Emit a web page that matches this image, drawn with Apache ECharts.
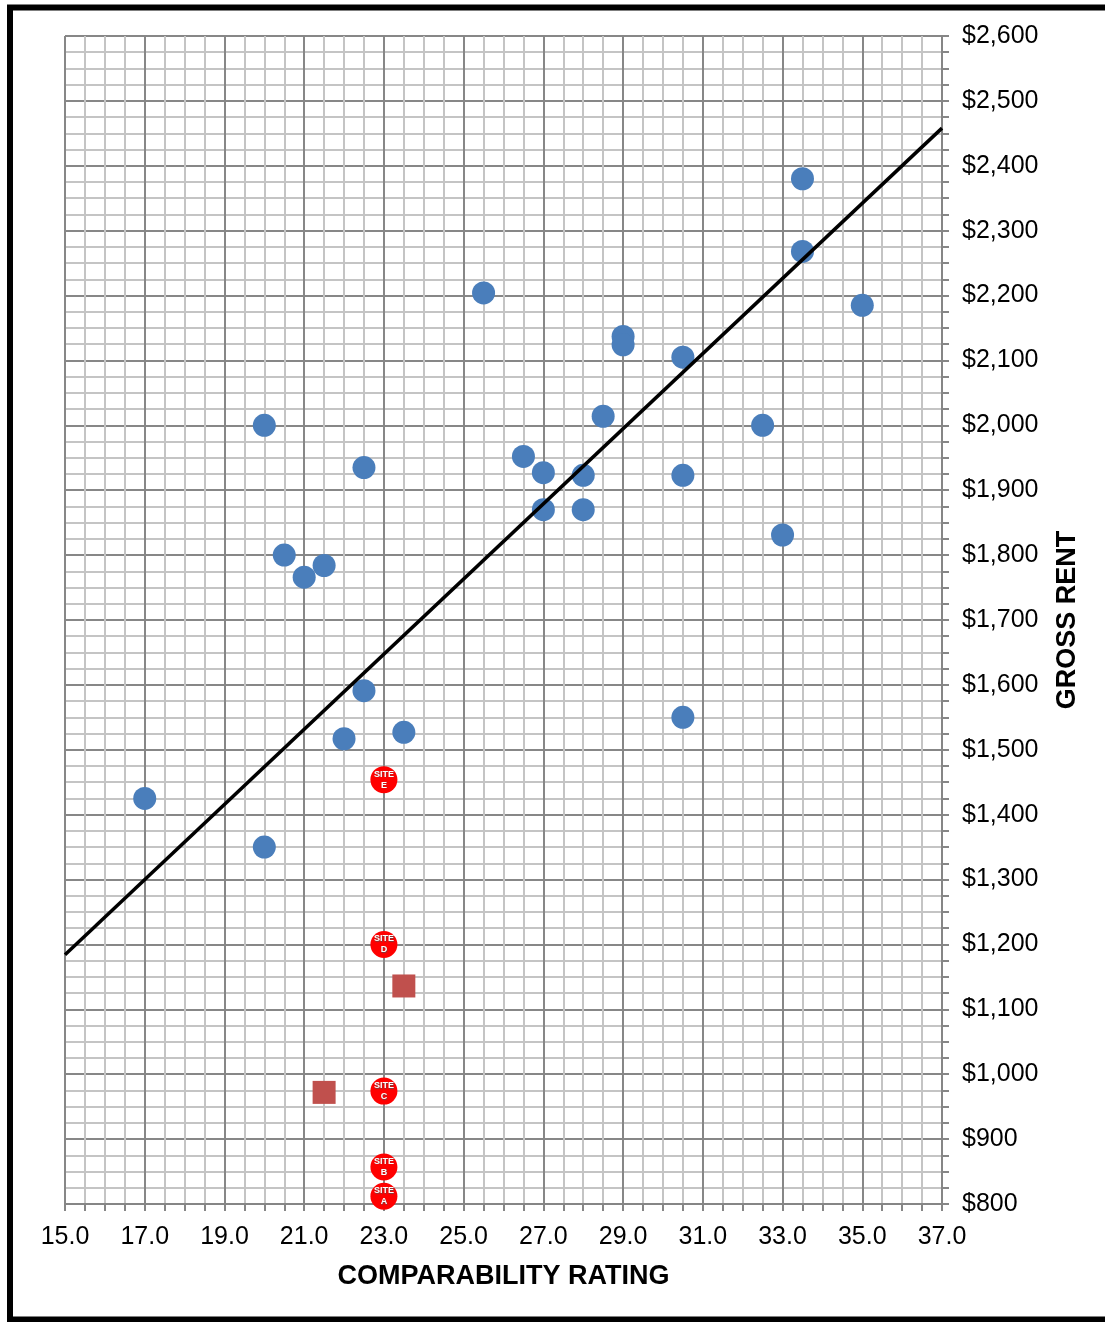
<!DOCTYPE html>
<html>
<head>
<meta charset="utf-8">
<script src="https://cdn.jsdelivr.net/npm/echarts@6/dist/echarts.min.js"></script>
<style>
html,body{margin:0;padding:0;background:#fff;}
#chart{width:1105px;height:1322px;}
</style>
</head>
<body>
<div id="chart"></div>
<script>
// Comparable properties
const compX = [17.0, 20.0, 20.0, 20.5, 21.0, 21.5, 22.5, 22.5, 22.0, 23.5, 25.5, 26.5, 27.0, 27.0, 28.0, 28.0, 28.5, 29.0, 29.0, 30.5, 30.5, 30.5, 32.5, 33.0, 33.5, 33.5, 35.0];
const compY = [1425, 1350, 2000, 1800, 1766, 1784, 1935, 1591, 1517, 1527, 2204, 1952, 1927, 1870, 1923, 1870, 2014, 2137, 2124, 2105, 1923, 1550, 2000, 1831, 2380, 2268, 2185];
// Subject sites
const siteNames = ['A', 'B', 'C', 'D', 'E'];
const siteX = [23.0, 23.0, 23.0, 23.0, 23.0];
const siteY = [812, 857, 974, 1200, 1454];
// Other markers (squares)
const otherX = [23.5, 21.5];
const otherY = [1136, 972];
// Trend line endpoints
const trendX = [15.0, 37.0];
const trendY = [1184, 2458];
// Axis ticks
const xMin = 15, xMax = 37, xStep = 2;
const yMin = 800, yMax = 2600, yStep = 100;

const font = '"Liberation Sans", Arial, sans-serif';
const chart = echarts.init(document.getElementById('chart'));

chart.setOption({
  animation: false,
  backgroundColor: '#fff',
  graphic: [{
    type: 'rect',
    shape: {x: 10, y: 7.5, width: 1200, height: 1312},
    style: {fill: 'none', stroke: '#000', lineWidth: 6},
    z: 100
  }],
  grid: {left: 65, right: 163, top: 36, bottom: 118, containLabel: false},
  xAxis: {
    type: 'value', min: xMin, max: xMax, interval: xStep,
    name: 'COMPARABILITY RATING', nameLocation: 'middle', nameGap: 59,
    nameTextStyle: {fontFamily: font, fontSize: 27, fontWeight: 'bold', color: '#000'},
    axisLine: {show: true, lineStyle: {color: '#868686', width: 2}},
    axisTick: {show: true, length: 7, lineStyle: {color: '#868686', width: 2}},
    minorTick: {show: true, splitNumber: 4, length: 7, lineStyle: {color: '#868686', width: 2}},
    axisLabel: {fontFamily: font, fontSize: 25, color: '#000', margin: 21,
      formatter: v => v.toFixed(1)},
    splitLine: {show: true, lineStyle: {color: '#878787', width: 2}},
    minorSplitLine: {show: true, lineStyle: {color: '#c4c4c4', width: 2}}
  },
  yAxis: {
    type: 'value', position: 'right', min: yMin, max: yMax, interval: yStep,
    name: 'GROSS RENT', nameLocation: 'middle', nameGap: 112, nameRotate: 90,
    nameTextStyle: {fontFamily: font, fontSize: 27, fontWeight: 'bold', color: '#000'},
    axisLine: {show: true, lineStyle: {color: '#868686', width: 2}},
    axisTick: {show: true, length: 7, lineStyle: {color: '#868686', width: 2}},
    minorTick: {show: true, splitNumber: 4, length: 7, lineStyle: {color: '#868686', width: 2}},
    axisLabel: {fontFamily: font, fontSize: 25, color: '#000', margin: 20,
      formatter: v => '$' + v.toLocaleString('en-US')},
    splitLine: {show: true, lineStyle: {color: '#878787', width: 2}},
    minorSplitLine: {show: true, lineStyle: {color: '#c4c4c4', width: 2}}
  },
  series: [
    {
      type: 'scatter', name: 'Comparables',
      data: compX.map((x, i) => [x, compY[i]]),
      symbol: 'circle', symbolSize: 23,
      itemStyle: {color: '#4a7ebb', opacity: 1},
      z: 3
    },
    {
      type: 'scatter', name: 'Other',
      data: otherX.map((x, i) => [x, otherY[i]]),
      symbol: 'rect', symbolSize: 23,
      itemStyle: {color: '#c0504d', opacity: 1},
      z: 3
    },
    {
      type: 'scatter', name: 'Sites',
      data: siteX.map((x, i) => ({value: [x, siteY[i]], name: siteNames[i]})),
      symbol: 'circle', symbolSize: 27,
      itemStyle: {color: '#ff0000', opacity: 1},
      label: {
        show: true, position: 'inside', overflow: 'none', width: 40,
        formatter: p => 'SITE\n' + p.name,
        fontFamily: font, fontSize: 9, fontWeight: 'bold', lineHeight: 11,
        color: '#fff', textShadowColor: 'rgba(80,80,80,0.8)', textShadowBlur: 1,
        textShadowOffsetX: 0.5, textShadowOffsetY: 0.5
      },
      z: 4
    },
    {
      type: 'line', name: 'Trend',
      data: trendX.map((x, i) => [x, trendY[i]]),
      symbol: 'none', lineStyle: {color: '#000', width: 3.5},
      z: 5
    }
  ]
});
</script>
</body>
</html>
